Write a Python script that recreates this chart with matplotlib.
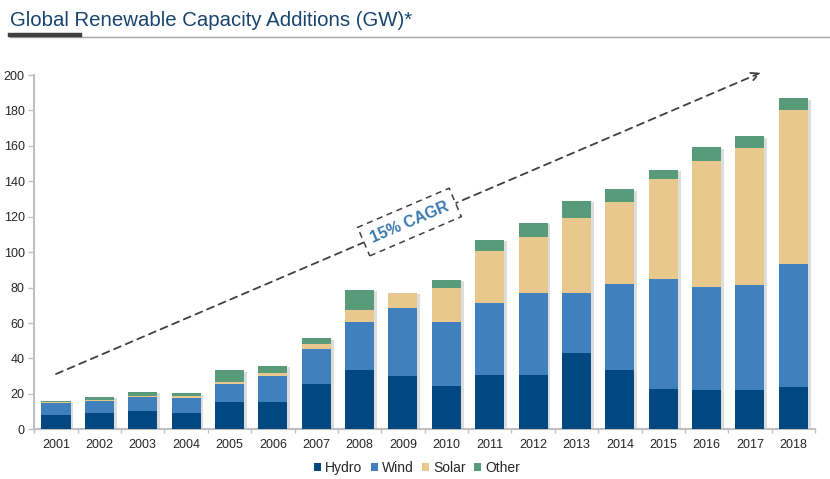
import matplotlib
matplotlib.use("Agg")
import matplotlib.pyplot as plt
import matplotlib.patheffects as pe
from matplotlib.patches import Patch
from matplotlib.lines import Line2D
import numpy as np

plt.rcParams['font.family'] = ['Liberation Sans', 'DejaVu Sans']

years = ['2001', '2002', '2003', '2004', '2005', '2006', '2007', '2008', '2009',
         '2010', '2011', '2012', '2013', '2014', '2015', '2016', '2017', '2018']
hydro = [8.1, 9.2, 10.3, 9.4, 15.6, 15.6, 25.6, 33.5, 29.9,
         24.6, 30.7, 30.7, 43.2, 33.5, 22.9, 22.2, 22.2, 24.0]
wind = [6.6, 6.9, 7.8, 8.1, 9.8, 14.7, 19.7, 26.9, 38.6,
        36.2, 40.8, 46.4, 33.6, 48.5, 62.1, 58.3, 59.4, 69.5]
solar = [0.7, 0.4, 0.5, 1.5, 1.3, 1.7, 2.9, 6.8, 8.6,
         19.1, 29.0, 31.3, 42.6, 46.1, 56.3, 70.8, 77.0, 86.7]
other = [0.7, 1.9, 2.5, 1.3, 6.6, 3.9, 3.2, 11.4, 0.0,
         4.4, 6.5, 8.2, 9.5, 7.4, 5.1, 7.8, 6.8, 6.6]
series_names = ['Hydro', 'Wind', 'Solar', 'Other']
series_colors = ['#00487F', '#4080BC', '#E8C88C', '#589B7A']
yticks = [0, 20, 40, 60, 80, 100, 120, 140, 160, 180, 200]
cagr_label = '15% CAGR'
title = 'Global Renewable Capacity Additions (GW)*'

fig = plt.figure(figsize=(8.3, 4.79), dpi=100)
ax = fig.add_axes([34.3 / 830, 1 - 429.3 / 479, (815 - 34.3) / 830, (429.3 - 75) / 479])

x = np.arange(len(years))
bottom = np.zeros(len(years))
for vals, name, col in zip([hydro, wind, solar, other], series_names, series_colors):
    v = np.array(vals)
    ax.bar(x, v, width=0.67, bottom=bottom, color=col, edgecolor='none', label=name,
           zorder=3)
    bottom += v

# soft shadow of full stacks
ax.bar(x, bottom, width=0.67, color='none', edgecolor='none', zorder=2,
       path_effects=[pe.SimplePatchShadow(offset=(2, -1), shadow_rgbFace='#a0a0a0', alpha=0.35)])

ax.set_xlim(-0.5, len(years) - 0.5)
ax.set_ylim(0, 200)
ax.set_yticks(yticks)
ax.set_xticks(x)
ax.set_xticklabels(years)
ax.set_xticks(np.arange(-0.5, len(years), 1.0), minor=True)
ax.tick_params(axis='x', which='major', length=0, pad=7, labelsize=9, labelcolor='#262626')
ax.tick_params(axis='x', which='minor', length=3, color='#BFBFBF', width=1)
ax.tick_params(axis='y', length=4, color='#BFBFBF', width=1, pad=3, labelsize=9, labelcolor='#262626')
for s in ['top', 'right']:
    ax.spines[s].set_visible(False)
for s in ['left', 'bottom']:
    ax.spines[s].set_color('#BFBFBF')
    ax.spines[s].set_linewidth(1.5)

# CAGR arrow
ax.annotate('', xy=(16.25, 201.3), xytext=(0.0, 31.2),
            arrowprops=dict(arrowstyle='->', linestyle=(0, (4, 3)), color='#404040', lw=1.3,
                        mutation_scale=14, shrinkA=0, shrinkB=0),
            annotation_clip=False, zorder=4)
ax.text(8.15, 117, cagr_label, rotation=23.2, rotation_mode='anchor', ha='center', va='center',
        fontsize=11.5, fontweight='bold', color='#3A78B0', zorder=5,
        bbox=dict(boxstyle='square,pad=0.5', facecolor='white', edgecolor='#404040',
                  linestyle=(0, (4, 3)), linewidth=1.1))

# title and underline
fig.text(10 / 830, 1 - 20 / 479, title, ha='left', va='center', fontsize=14.7, color='#17456F')
fig.add_artist(Line2D([10 / 830, 1.0], [1 - 36.8 / 479] * 2, color='#A6A6A6', lw=1.0))
fig.add_artist(Line2D([10 / 830, 80 / 830], [1 - 35 / 479] * 2, color='#3F3F3F', lw=3.2))

handles = [Patch(facecolor=c, edgecolor='none', label=n) for n, c in zip(series_names, series_colors)]
fig.legend(handles=handles, loc='center', bbox_to_anchor=(417 / 830, 1 - 468 / 479), ncol=4,
           frameon=False, fontsize=10, handlelength=0.5, handleheight=0.5, handletextpad=0.3,
           columnspacing=0.6, labelcolor='#262626')

fig.savefig('out.png', dpi=100)
